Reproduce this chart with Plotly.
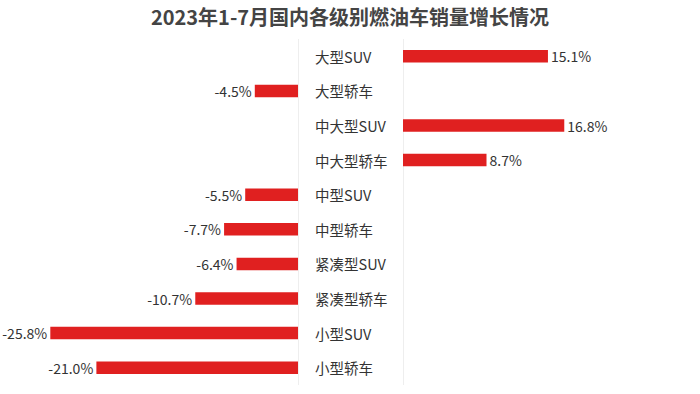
import plotly.graph_objects as go

title = "2023年1-7月国内各级别燃油车销量增长情况"
categories = ["大型SUV", "大型轿车", "中大型SUV", "中大型轿车", "中型SUV",
              "中型轿车", "紧凑型SUV", "紧凑型轿车", "小型SUV", "小型轿车"]
growth = [15.1, -4.5, 16.8, 8.7, -5.5, -7.7, -6.4, -10.7, -25.8, -21.0]

neg_cats = [c for c, v in zip(categories, growth) if v < 0]
neg_vals = [v for v in growth if v < 0]
pos_cats = [c for c, v in zip(categories, growth) if v >= 0]
pos_vals = [v for v in growth if v >= 0]

FONT = "Noto Sans CJK SC"
RED = "#e02020"
W, H = 700, 394

fig = go.Figure()
fig.add_trace(go.Bar(
    y=neg_cats, x=neg_vals, orientation="h", xaxis="x", yaxis="y",
    marker=dict(color=RED, line=dict(width=0)),
    texttemplate="%{x:.1f}%", textposition="outside", cliponaxis=False,
    constraintext="none", hoverinfo="skip",
    textfont=dict(size=14, color="#333333", family=FONT),
))
fig.add_trace(go.Bar(
    y=pos_cats, x=pos_vals, orientation="h", xaxis="x2", yaxis="y",
    marker=dict(color=RED, line=dict(width=0)),
    texttemplate="%{x:.1f}%", textposition="outside", cliponaxis=False,
    constraintext="none", hoverinfo="skip",
    textfont=dict(size=14, color="#333333", family=FONT),
))

for c in categories:
    fig.add_annotation(x=313 / W, xref="paper", y=c, yref="y", text=c,
                       showarrow=False, xanchor="left",
                       font=dict(size=14.5, color="#333333", family=FONT))

fig.update_layout(
    width=W, height=H,
    margin=dict(l=0, r=0, t=38.6, b=8.6),
    paper_bgcolor="white", plot_bgcolor="white",
    showlegend=False, bargap=0.64,
    title=dict(text="<b>" + title + "</b>", x=0.5, xanchor="center",
               y=1 - 18 / H, yanchor="middle",
               font=dict(size=20, color="#444444", family=FONT)),
    xaxis=dict(domain=[0, 298 / W], range=[-31.04, 0], showgrid=False,
               showticklabels=False, zeroline=True, zerolinecolor="#eeeeee",
               zerolinewidth=1, fixedrange=True),
    xaxis2=dict(domain=[403 / W, 1], range=[0, 30.94], showgrid=False,
                showticklabels=False, zeroline=True, zerolinecolor="#eeeeee",
                zerolinewidth=1, anchor="y", fixedrange=True),
    yaxis=dict(categoryorder="array", categoryarray=categories,
               autorange="reversed", showticklabels=False, showgrid=False,
               zeroline=False, fixedrange=True),
    font=dict(family=FONT),
)

fig.write_html("out.html", config={"displayModeBar": False},
               post_script="document.body.style.margin='0';")
